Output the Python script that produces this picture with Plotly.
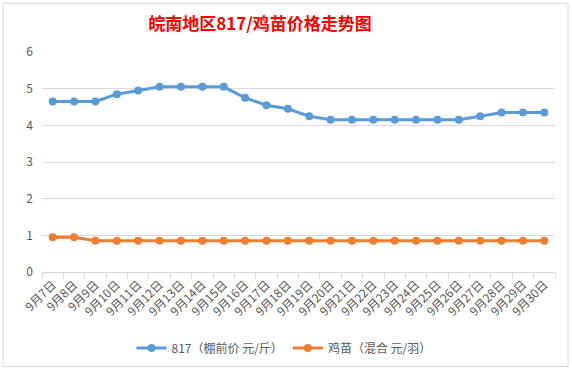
import plotly.graph_objects as go

dates = [f"9月{d}日" for d in range(7, 31)]
s817 = [4.65, 4.65, 4.65, 4.85, 4.95, 5.05, 5.05, 5.05, 5.05, 4.75, 4.55, 4.45,
        4.25, 4.15, 4.15, 4.15, 4.15, 4.15, 4.15, 4.15, 4.25, 4.35, 4.35, 4.35]
chick = [0.95, 0.95, 0.85, 0.85, 0.85, 0.85, 0.85, 0.85, 0.85, 0.85, 0.85, 0.85,
         0.85, 0.85, 0.85, 0.85, 0.85, 0.85, 0.85, 0.85, 0.85, 0.85, 0.85, 0.85]
name817 = "817（棚前价 元/斤）"
nameChick = "鸡苗（混合 元/羽）"
title = "皖南地区817/鸡苗价格走势图"

FONT = "Noto Sans CJK SC"
fig = go.Figure()
fig.add_trace(go.Scatter(x=dates, y=s817, name=name817, mode="lines+markers",
                         line=dict(color="#5B9BD5", width=3),
                         marker=dict(size=8, color="#5B9BD5")))
fig.add_trace(go.Scatter(x=dates, y=chick, name=nameChick, mode="lines+markers",
                         line=dict(color="#ED7D31", width=3),
                         marker=dict(size=8, color="#ED7D31")))

L, R, T, B = 42, 17, 52, 100
W, H = 572, 373
pw, ph = W - L - R, H - T - B
fig.update_layout(
    width=W, height=H,
    margin=dict(l=L, r=R, t=T, b=B),
    paper_bgcolor="white", plot_bgcolor="white",
    font=dict(family=FONT, color="#595959", size=12),
    title=dict(text=f"<b>{title}</b>", x=260 / W, xref="container", xanchor="center",
               y=1 - 24 / H, yref="container", yanchor="middle",
               font=dict(size=17, color="#FF0000", family=FONT)),
    showlegend=True,
    legend=dict(orientation="h", x=(284 - L) / pw, xanchor="center", y=(T + ph - 348) / ph,
                yref="paper", yanchor="middle", font=dict(size=12, color="#595959"),
                itemwidth=30, tracegroupgap=0),
    xaxis=dict(type="category", showgrid=False, showline=True, linecolor="#D9D9D9",
               linewidth=1, ticks="outside", tickson="boundaries", ticklen=5,
               tickcolor="#D9D9D9", tickangle=-45, tickfont=dict(size=12, color="#595959"),
               range=[-0.5, len(dates) - 0.5]),
    yaxis=dict(range=[0, 6], dtick=1, showgrid=True, gridcolor="#D9D9D9", gridwidth=1,
               zeroline=False, showline=False, tickfont=dict(size=12, color="#595959"),
               ticks="", ticklabelstandoff=8),
    shapes=[dict(type="rect", xref="paper", yref="paper",
                 x0=(3 - L) / pw, x1=(568 - L) / pw,
                 y0=(T + ph - 368) / ph, y1=(T + ph - 3) / ph,
                 line=dict(color="#D9D9D9", width=1), fillcolor="rgba(0,0,0,0)",
                 layer="below")],
)
fig.write_html("out.html", config={"displayModeBar": False},
               post_script="document.body.style.margin='0';")
